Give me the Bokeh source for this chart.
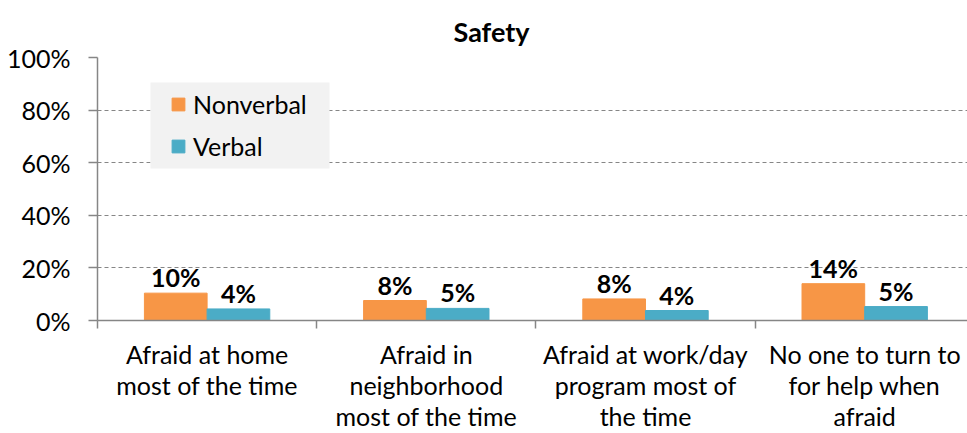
from bokeh.plotting import figure
from bokeh.models import (Range1d, FixedTicker, PrintfTickFormatter, Legend, LegendItem,
                          ColumnDataSource, BoxAnnotation)
from bokeh.embed import file_html
from bokeh.resources import INLINE
from bokeh.core.properties import value

# ---- data ----
title_text = "Safety"
categories = ["Afraid at home\nmost of the time",
              "Afraid in\nneighborhood\nmost of the time",
              "Afraid at work/day\nprogram most of\nthe time",
              "No one to turn to\nfor help when\nafraid"]
nonverbal = [10.4, 7.6, 8.2, 14.0]
verbal = [4.4, 4.6, 3.8, 5.3]
nonverbal_labels = ["10%", "8%", "8%", "14%"]
verbal_labels = ["4%", "5%", "4%", "5%"]
y_ticks = [0, 20, 40, 60, 80, 100]

ORANGE = "#F79646"
BLUE = "#4BACC6"
GRAY = "#868686"
FONT = "Lato"

n = len(categories)
bar_w = 0.286
centers = [i + 0.5 for i in range(n)]
x_non = [c - bar_w / 2 for c in centers]
x_ver = [c + bar_w / 2 for c in centers]

p = figure(width=967, height=433, output_backend="svg", toolbar_location=None,
           x_range=Range1d(0, 3.969), y_range=Range1d(0, 100),
           min_border_left=97, min_border_right=0, min_border_top=57, min_border_bottom=113)
p.outline_line_color = None
p.background_fill_color = "white"

src_n = ColumnDataSource(dict(x=x_non, top=nonverbal, label=nonverbal_labels))
src_v = ColumnDataSource(dict(x=x_ver, top=verbal, label=verbal_labels))

r_n = p.vbar(x="x", top="top", bottom=0, width=bar_w, source=src_n,
             fill_color=ORANGE, line_color=ORANGE)
r_v = p.vbar(x="x", top="top", bottom=0, width=bar_w, source=src_v,
             fill_color=BLUE, line_color=BLUE)

for src in (src_n, src_v):
    p.text(x="x", y="top", text="label", source=src, text_align="center",
           text_baseline="middle", y_offset=-16, text_font=value(FONT),
           text_font_style="bold", text_font_size="25px", text_color="black")

# title
p.title.text = title_text
p.title.align = "left"
p.title.offset = 356
p.title.vertical_align = "bottom"
p.title.text_font = FONT
p.title.text_font_size = "27px"
p.title.text_font_style = "bold"
p.title.text_color = "black"
p.title.text_line_height = 1.0
p.title.standoff = 20

# y axis
p.yaxis.ticker = FixedTicker(ticks=y_ticks)
p.yaxis.formatter = PrintfTickFormatter(format="%d%%")
p.yaxis.major_label_text_font = FONT
p.yaxis.major_label_text_font_size = "25px"
p.yaxis.major_label_text_color = "black"
p.yaxis.axis_line_color = GRAY
p.yaxis.axis_line_width = 1.5
p.yaxis.major_tick_line_color = GRAY
p.yaxis.major_tick_line_width = 1.5
p.yaxis.major_tick_out = 9
p.yaxis.major_tick_in = 0
p.yaxis.minor_tick_line_color = None
p.yaxis.major_label_standoff = 18

# x axis
p.xaxis.ticker = FixedTicker(ticks=centers, minor_ticks=list(range(n + 1)))
p.xaxis.major_label_overrides = {c: lab for c, lab in zip(centers, categories)}
p.xaxis.major_label_text_font = FONT
p.xaxis.major_label_text_font_size = "25px"
p.xaxis.major_label_text_color = "black"
p.xaxis.major_label_text_line_height = 1.04
p.xaxis.axis_line_color = GRAY
p.xaxis.axis_line_width = 1.5
p.xaxis.major_tick_line_color = None
p.xaxis.major_tick_out = 0
p.xaxis.major_tick_in = 0
p.xaxis.minor_tick_line_color = GRAY
p.xaxis.minor_tick_line_width = 1.5
p.xaxis.minor_tick_out = 8
p.xaxis.minor_tick_in = 0
p.xaxis.major_label_standoff = 10

# grid
p.xgrid.grid_line_color = None
p.ygrid.ticker = FixedTicker(ticks=y_ticks[1:])
p.ygrid.grid_line_color = GRAY
p.ygrid.grid_line_dash = "4 3"
p.ygrid.grid_line_width = 1.2

# legend background box (canvas pixels)
p.add_layout(BoxAnnotation(left=150, right=329, top=82, bottom=168,
                           left_units="canvas", right_units="canvas",
                           top_units="canvas", bottom_units="canvas",
                           fill_color="#F2F2F2", fill_alpha=1, line_color=None))

legend = Legend(items=[LegendItem(label="Nonverbal", renderers=[r_n]),
                       LegendItem(label="Verbal", renderers=[r_v])],
                location=(73, 159), margin=0, padding=0, spacing=12,
                glyph_width=16, glyph_height=16, label_standoff=7, label_height=30,
                background_fill_alpha=0, border_line_color=None, label_text_font=FONT,
                label_text_font_size="25px", label_text_color="black")
p.add_layout(legend)

open("out.html", "w").write(file_html(p, INLINE))
